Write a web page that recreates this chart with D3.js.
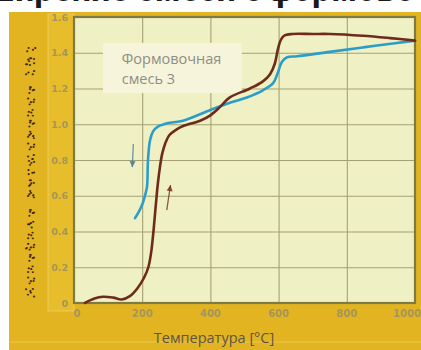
<!DOCTYPE html>
<html>
<head>
<meta charset="utf-8">
<script src="https://cdn.jsdelivr.net/npm/d3@7"></script>
<style>
  html, body { margin: 0; padding: 0; background: #ffffff; }
  svg { display: block; }
</style>
</head>
<body>
<svg id="chart" width="421" height="350"></svg>
<script>
// Heating curve (brown): temperature [°C] and expansion [%]
const heatTemp = [32, 60, 85, 115, 140, 165, 185, 205, 218, 226, 233, 240, 246, 252, 258, 267, 280, 300, 320, 370, 400, 430, 457, 516, 554, 575, 589, 598, 606, 616, 640, 700, 750, 848, 927, 1000];
const heatVal  = [0, 0.025, 0.035, 0.03, 0.02, 0.04, 0.08, 0.14, 0.2, 0.28, 0.4, 0.55, 0.67, 0.76, 0.83, 0.89, 0.94, 0.97, 0.99, 1.02, 1.05, 1.1, 1.15, 1.2, 1.24, 1.28, 1.34, 1.42, 1.47, 1.495, 1.505, 1.505, 1.505, 1.495, 1.482, 1.468];

// Cooling curve (blue)
const coolTemp = [1000, 947, 848, 750, 654, 625, 610, 598, 584, 554, 507, 457, 400, 320, 273, 245, 232, 223, 217, 214, 208, 202, 190, 179];
const coolVal  = [1.468, 1.455, 1.43, 1.405, 1.38, 1.375, 1.35, 1.29, 1.23, 1.19, 1.15, 1.12, 1.08, 1.02, 1.005, 0.985, 0.96, 0.91, 0.8, 0.65, 0.6, 0.56, 0.51, 0.475];

// Direction arrows: [from temp, from value, to temp, to value]
const coolArrow = [174, 0.89, 171, 0.76];
const heatArrow = [272, 0.52, 283, 0.66];

const xTicks = [0, 200, 400, 600, 800, 1000];
const yTicks = [0, 0.2, 0.4, 0.6, 0.8, 1.0, 1.2, 1.4, 1.6];
const yTickLabels = ["0", "0.2", "0.4", "0.6", "0.8", "1.0", "1.2", "1.4", "1.6"];

const legendLines = ["Формовочная", "смесь  3"];
const xTitle = "Температура [°C]";
const yTitle = "Линейное расширение [%]";

const svg = d3.select("#chart");

// Heading strip above the frame (only the lower edge of the letters shows)
svg.append("text")
  .attr("x", 262).attr("y", 0.5)
  .attr("text-anchor", "end")
  .attr("font-family", "Roboto, 'DejaVu Sans', sans-serif")
  .attr("font-weight", 700).attr("font-size", 34)
  .attr("fill", "#1a1a1a")
  .text("Расширение смеси с");
svg.append("text")
  .attr("x", 268).attr("y", 0.5)
  .attr("font-family", "Roboto, 'DejaVu Sans', sans-serif")
  .attr("font-weight", 700).attr("font-size", 34)
  .attr("fill", "#1a1a1a")
  .text("формовочной");

// Golden frame
svg.append("rect")
  .attr("x", 9).attr("y", 12).attr("width", 412).attr("height", 338)
  .attr("fill", "#e3b421");
svg.append("rect")
  .attr("x", 48).attr("y", 14).attr("width", 26).attr("height", 297)
  .attr("fill", "#e8bd2c")
  .attr("stroke", "#efcf63").attr("stroke-width", 0.8);
svg.append("line")
  .attr("x1", 9).attr("x2", 421).attr("y1", 342).attr("y2", 342)
  .attr("stroke", "#ecc84e").attr("stroke-width", 1.2);

const margin = { left: 74, right: 415, top: 17, bottom: 303 };

const x = d3.scaleLinear().domain([0, 1000]).range([margin.left, margin.right]);
const y = d3.scaleLinear().domain([0, 1.6]).range([margin.bottom, margin.top]);

// Plot area
svg.append("rect")
  .attr("x", margin.left).attr("y", margin.top)
  .attr("width", margin.right - margin.left).attr("height", margin.bottom - margin.top)
  .attr("fill", "#eff0c4");

// Grid
svg.append("g")
  .attr("transform", `translate(0,${margin.bottom})`)
  .call(d3.axisBottom(x).tickValues(xTicks.slice(1, -1)).tickSize(-(margin.bottom - margin.top)).tickFormat(""))
  .call(g => g.select(".domain").remove())
  .call(g => g.selectAll("line").attr("stroke", "#a4a274").attr("stroke-width", 1.1));
svg.append("g")
  .attr("transform", `translate(${margin.left},0)`)
  .call(d3.axisLeft(y).tickValues(yTicks.slice(1, -1)).tickSize(-(margin.right - margin.left)).tickFormat(""))
  .call(g => g.select(".domain").remove())
  .call(g => g.selectAll("line").attr("stroke", "#a4a274").attr("stroke-width", 1.1));

// Legend box
const lx0 = x(85), lx1 = x(492), ly0 = y(1.455), ly1 = y(1.175);
svg.append("rect")
  .attr("x", lx0).attr("y", ly0)
  .attr("width", lx1 - lx0).attr("height", ly1 - ly0)
  .attr("fill", "#f6f4da");
svg.selectAll("text.legend")
  .data(legendLines)
  .join("text")
  .attr("class", "legend")
  .attr("x", x(140))
  .attr("y", (d, i) => y(1.335) + i * 20)
  .attr("font-family", "'Open Sans', 'DejaVu Sans', sans-serif")
  .attr("font-size", 14.5)
  .attr("fill", "#8e8e86")
  .text(d => d);

// Plot border
svg.append("rect")
  .attr("x", margin.left).attr("y", margin.top)
  .attr("width", margin.right - margin.left).attr("height", margin.bottom - margin.top)
  .attr("fill", "none")
  .attr("stroke", "#7e7a44").attr("stroke-width", 2.2);

// Curves
const line = d3.line().curve(d3.curveCatmullRom.alpha(0.5));
const heatPts = heatTemp.map((t, i) => [x(t), y(heatVal[i])]);
const coolPts = coolTemp.map((t, i) => [x(t), y(coolVal[i])]);

svg.append("path")
  .attr("d", line(coolPts))
  .attr("fill", "none")
  .attr("stroke", "#2a9ec9").attr("stroke-width", 2.6)
  .attr("stroke-linecap", "round");
svg.append("path")
  .attr("d", line(heatPts))
  .attr("fill", "none")
  .attr("stroke", "#6e2a1b").attr("stroke-width", 2.6)
  .attr("stroke-linecap", "round");

// Direction arrows
function arrow(a, color) {
  const x1 = x(a[0]), y1 = y(a[1]), x2 = x(a[2]), y2 = y(a[3]);
  const ang = Math.atan2(y2 - y1, x2 - x1);
  svg.append("line")
    .attr("x1", x1).attr("y1", y1).attr("x2", x2).attr("y2", y2)
    .attr("stroke", color).attr("stroke-width", 1.3).attr("opacity", 0.8);
  const h = 6, w = 3;
  const bx = x2 - h * Math.cos(ang), by = y2 - h * Math.sin(ang);
  const px = -Math.sin(ang) * w, py = Math.cos(ang) * w;
  svg.append("path")
    .attr("d", `M${x2},${y2}L${bx + px},${by + py}L${bx - px},${by - py}Z`)
    .attr("fill", color).attr("opacity", 0.9);
}
arrow(coolArrow, "#4f7f96");
arrow(heatArrow, "#7a3424");

// Tick labels
svg.selectAll("text.ytick")
  .data(yTicks)
  .join("text")
  .attr("class", "ytick")
  .attr("x", 68)
  .attr("y", d => y(d) + 3.5)
  .attr("text-anchor", "end")
  .attr("font-family", "'DejaVu Sans', sans-serif")
  .attr("font-weight", 700).attr("font-size", 9.5)
  .attr("fill", "#a59659")
  .text((d, i) => yTickLabels[i]);

svg.selectAll("text.xtick")
  .data(xTicks)
  .join("text")
  .attr("class", "xtick")
  .attr("x", (d, i) => x(d) + (i === 0 ? 3 : i === xTicks.length - 1 ? -8 : 0))
  .attr("y", 317)
  .attr("text-anchor", "middle")
  .attr("font-family", "'DejaVu Sans', sans-serif")
  .attr("font-weight", 700).attr("font-size", 10)
  .attr("fill", "#a59659")
  .text(d => d);

// Axis titles
svg.append("text")
  .attr("x", 214).attr("y", 343)
  .attr("text-anchor", "middle")
  .attr("font-family", "'Open Sans', 'DejaVu Sans', sans-serif")
  .attr("font-size", 14.5)
  .attr("fill", "#5d5346")
  .text(xTitle);

// Y title, printed as a sparse dotted trace
svg.append("text")
  .attr("transform", "translate(34,172) rotate(-90)")
  .attr("text-anchor", "middle")
  .attr("font-family", "'DejaVu Sans', sans-serif")
  .attr("font-weight", 700).attr("font-size", 11)
  .attr("textLength", 250)
  .attr("lengthAdjust", "spacing")
  .attr("fill", "none")
  .attr("stroke", "#3b2414").attr("stroke-width", 1.9)
  .attr("stroke-linecap", "round")
  .attr("stroke-dasharray", "0.1 7")
  .text(yTitle);
</script>
</body>
</html>
